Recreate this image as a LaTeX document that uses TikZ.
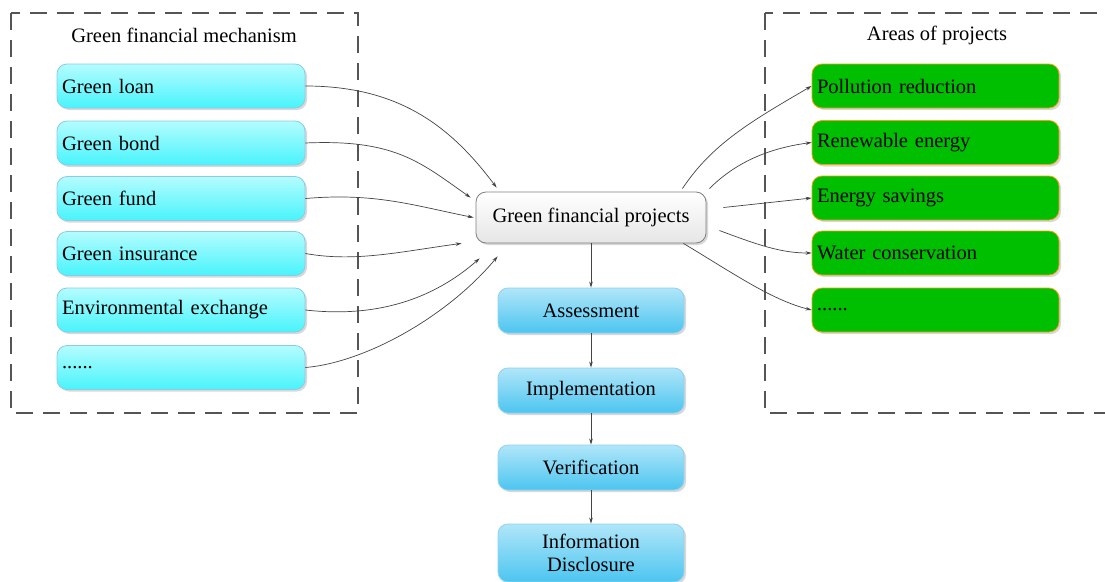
\documentclass[tikz,border=0pt]{standalone}
\usepackage{fontspec}
\setmainfont{Liberation Serif}
\usetikzlibrary{shadows,arrows.meta,calc}
\definecolor{cyanTop}{HTML}{B4FCFE}
\definecolor{cyanBot}{HTML}{48F4FC}
\definecolor{cyanBorder}{HTML}{8CCBE6}
\definecolor{grnFill}{HTML}{00BE00}
\definecolor{grnBorder}{HTML}{F0A400}
\definecolor{blueTop}{HTML}{B0E6F9}
\definecolor{blueBot}{HTML}{4CC5F0}
\definecolor{blueBorder}{HTML}{90D2F0}
\definecolor{grayTop}{HTML}{FFFFFF}
\definecolor{grayBot}{HTML}{E6E6E6}
\definecolor{lineGray}{HTML}{444444}
\definecolor{dashGray}{HTML}{555555}
\tikzset{
  base/.style={rounded corners=10pt, line width=0.8pt, font=\fontsize{20.5}{23.5}\selectfont,
    drop shadow={opacity=0.3, shadow xshift=2pt, shadow yshift=-2pt}},
  leftbox/.style={base, draw=cyanBorder, top color=cyanTop, bottom color=cyanBot,
    text width=238pt, inner xsep=5pt, inner ysep=0pt, align=left, minimum height=44pt},
  rightbox/.style={base, draw=grnBorder, fill=grnFill,
    text width=237pt, inner xsep=5pt, inner ysep=0pt, align=left, minimum height=44pt},
  procbox/.style={base, draw=blueBorder, top color=blueTop, bottom color=blueBot,
    minimum width=186pt, inner sep=0pt, align=center, minimum height=45pt},
  centerbox/.style={base, draw=gray, top color=grayTop, bottom color=grayBot,
    minimum width=230pt, minimum height=51pt, inner sep=0pt},
  frame/.style={draw=dashGray, line width=2pt, dash pattern=on 17pt off 10pt},
  titletext/.style={font=\fontsize{20.5}{23.5}\selectfont, inner sep=0pt},
  conn/.style={draw=lineGray, line width=0.7pt, -{Stealth[length=6pt,width=3.6pt]}}
}
\begin{document}
\begin{tikzpicture}[x=1pt,y=-1pt]
\useasboundingbox (0,0) rectangle (1105,581);
\fill[white] (0,0) rectangle (1105,581);
\begin{scope}
\clip (0,0) rectangle (1105,581);
% frames
\draw[frame] (11,13) rectangle (358,413);
\draw[frame] (765,13) rectangle (1125,413);
\node[titletext] (tl) at (184,35) {Green financial mechanism};
\node[titletext] (tr) at (937,35) {Areas of projects};
% left nodes
\node[leftbox] (gl) at (181,86) {Green loan};
\node[leftbox] (gb) at (181,143) {Green bond};
\node[leftbox] (gf) at (181,198.5) {Green fund};
\node[leftbox] (gi) at (181,253.5) {Green insurance};
\node[leftbox] (ge) at (181,310) {Environmental exchange};
\node[leftbox] (gd) at (181,367.5) {......};
% right nodes
\node[rightbox] (pr) at (935.5,86) {Pollution reduction};
\node[rightbox] (re) at (935.5,142.5) {Renewable energy};
\node[rightbox] (es) at (935.5,198) {Energy savings};
\node[rightbox] (wc) at (935.5,253) {Water conservation};
\node[rightbox] (rd) at (935.5,310) {......};
% center
\node[centerbox] (gfp) at (591,217.5) {Green financial projects};
\node[procbox] (as) at (591,310.5) {Assessment};
\node[procbox] (im) at (591,390.5) {Implementation};
\node[procbox] (ve) at (591,467.5) {Verification};
\node[procbox, minimum height=58pt] (id) at (591,553) {Information\\Disclosure};
% left connectors
\draw[conn] (gl.east) .. controls +(95,0) and +(-45,-60) .. ($(gfp.north west)+(21,-4)$);
\draw[conn] (gb.east) .. controls +(90,-4) and +(-50,-35) .. ($(gfp.north west)+(-5,6)$);
\draw[conn] (gf.east) .. controls +(70,-6) and +(-60,-12) .. ($(gfp.west)+(-2,0)$);
\draw[conn] (gi.east) .. controls +(50,9) and +(-60,8) .. ($(gfp.south west)+(-14,0)$);
\draw[conn] (ge.east) .. controls +(80,9) and +(-40,35) .. ($(gfp.south west)+(4,15)$);
\draw[conn] (gd.east) .. controls +(60,-5) and +(-50,60) .. ($(gfp.south west)+(22,13)$);
% right connectors
\draw[conn] ($(gfp.north east)+(-24,-3)$) .. controls +(30,-45) and +(-60,35) .. (pr.west);
\draw[conn] ($(gfp.north east)+(3,-3)$) .. controls +(25,-25) and +(-45,6) .. (re.west);
\draw[conn] ($(gfp.east)+(17,-10)$) -- (es.west);
\draw[conn] ($(gfp.east)+(13,13)$) .. controls +(40,15) and +(-30,0) .. (wc.west);
\draw[conn] ($(gfp.south east)+(-23,0)$) .. controls +(50,30) and +(-40,-10) .. (rd.west);
% vertical
\draw[conn] (gfp.south) -- (as.north);
\draw[conn] (as.south) -- (im.north);
\draw[conn] (im.south) -- (ve.north);
\draw[conn] (ve.south) -- (id.north);
\end{scope}
\end{tikzpicture}
\end{document}
